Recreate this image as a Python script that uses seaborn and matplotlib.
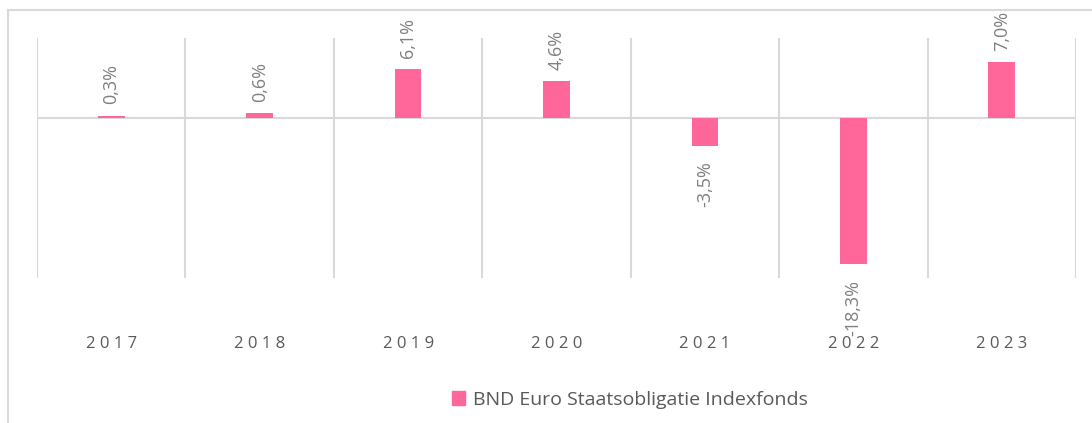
import matplotlib
matplotlib.use("Agg")
import matplotlib.pyplot as plt
import seaborn as sns
import pandas as pd
from matplotlib.patches import Rectangle, Patch

# data
years = ["2017", "2018", "2019", "2020", "2021", "2022", "2023"]
returns = [0.3, 0.6, 6.1, 4.6, -3.5, -18.3, 7.0]
series_name = "BND Euro Staatsobligatie Indexfonds"

df = pd.DataFrame({"year": years, "ret": returns})

sns.set_style("white")
plt.rcParams["font.family"] = ["Open Sans", "DejaVu Sans"]

pink = "#FF6699"
grid_col = "#D9D9D9"

fig = plt.figure(figsize=(10.92, 4.23), dpi=100)
ax = fig.add_axes([37 / 1092, 1 - 278 / 423, (1076 - 37) / 1092, (278 - 38) / 423])

# gridlines first so the bars sit on top of them
for b in range(len(years) + 1):
    ax.axvline(b - 0.5, color=grid_col, lw=1.5, zorder=0)
ax.axhline(0, color=grid_col, lw=1.5, zorder=0)

sns.barplot(data=df, x="year", y="ret", color=pink, width=0.18,
            saturation=1, linewidth=0, ax=ax, zorder=2)

ax.set_xlim(-0.5, len(years) - 0.5)
ax.set_ylim(-20, 10)

for s in ax.spines.values():
    s.set_visible(False)
ax.set_yticks([])
ax.set_xlabel("")
ax.set_ylabel("")
ax.tick_params(axis="x", length=0, pad=42, labelcolor="#595959")
ax.set_xticks(range(len(years)))
ax.set_xticklabels([" ".join(y) for y in years], fontsize=12)

# value labels
for i, v in enumerate(returns):
    txt = f"{v:.1f}%".replace(".", ",")
    if v >= 0:
        ax.annotate(txt, (i, v), xytext=(0, 8), textcoords="offset points",
                    rotation=90, ha="center", va="bottom",
                    fontsize=13, color="#7F7F7F")
    else:
        ax.annotate(txt, (i, v), xytext=(0, -11), textcoords="offset points",
                    rotation=90, ha="center", va="top",
                    fontsize=13, color="#7F7F7F")

# outer chart frame
fig.patches.append(Rectangle((8 / 1092, -0.1), 1.2, 1 - 10 / 423 + 0.1,
                             transform=fig.transFigure, fill=False,
                             edgecolor=grid_col, lw=1.5))

fig.legend(handles=[Patch(facecolor=pink, edgecolor=pink, label=series_name)],
           loc="center", bbox_to_anchor=(630 / 1092, 1 - 400 / 423),
           frameon=False, fontsize=14, handlelength=0.7, handleheight=0.7,
           handletextpad=0.4, labelcolor="#595959")

fig.savefig("out.png", dpi=100)
